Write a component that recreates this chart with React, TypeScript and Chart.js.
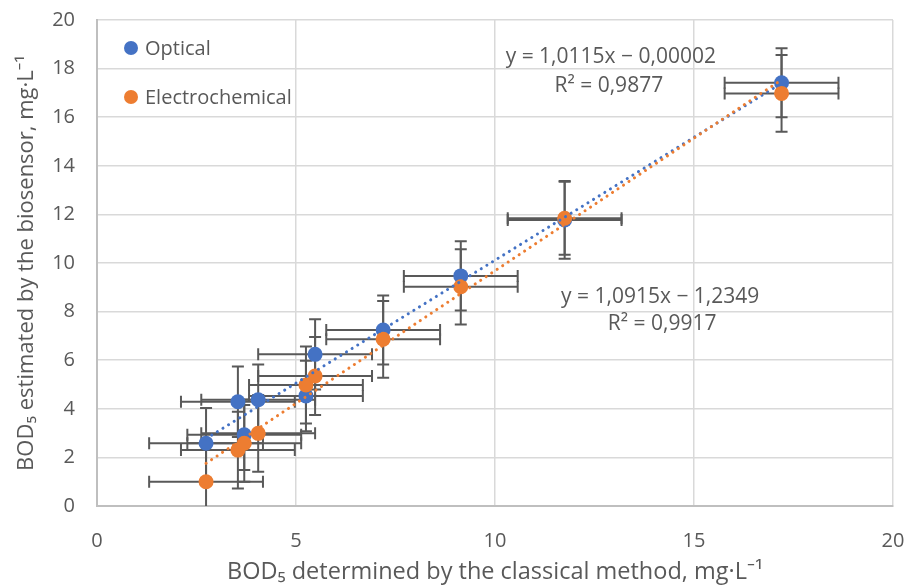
import React, { useEffect, useRef } from "react";
import { Chart, registerables } from "chart.js";

Chart.register(...registerables);

// ---- data ----
const classicalBOD = [2.74, 3.54, 3.7, 4.05, 5.25, 5.48, 7.19, 9.14, 11.75, 17.2];
const opticalBOD = [2.58, 4.29, 2.93, 4.37, 4.53, 6.24, 7.24, 9.47, 11.77, 17.42];
const electroBOD = [1.0, 2.3, 2.58, 2.99, 4.98, 5.35, 6.86, 9.02, 11.84, 16.98];
const classicalErr = [1.43, 1.43, 1.43, 1.43, 1.43, 1.43, 1.43, 1.43, 1.43, 1.43];
const opticalErr = [1.45, 1.45, 1.45, 1.45, 1.45, 1.45, 1.42, 1.42, 1.6, 1.42];
const electroErr = [1.58, 1.58, 1.58, 1.58, 1.58, 1.6, 1.58, 1.55, 1.5, 1.58];

const opticalFit = { slope: 1.0115, intercept: -0.00002 };
const electroFit = { slope: 1.0915, intercept: -1.2349 };

const xTicksStep = 5;
const yTicksStep = 2;

const FONT = "'Open Sans', 'Noto Sans', sans-serif";
const TEXT = "#595959";
const BLUE = "#4472C4";
const ORANGE = "#ED7D31";

const xMin = Math.min(...classicalBOD);
const xMax = Math.max(...classicalBOD);

const toPoints = (xs: number[], ys: number[]) => xs.map((x, i) => ({ x, y: ys[i] }));
const fitLine = (f: { slope: number; intercept: number }) => [
  { x: xMin, y: f.slope * xMin + f.intercept },
  { x: xMax, y: f.slope * xMax + f.intercept },
];

const errorBarPlugin = {
  id: "errorBars",
  beforeDatasetsDraw(chart: any) {
    const { ctx, chartArea, scales } = chart;
    const xs = scales.x;
    const ys = scales.y;
    ctx.save();
    ctx.beginPath();
    ctx.rect(chartArea.left, chartArea.top, chartArea.right - chartArea.left, chartArea.bottom - chartArea.top);
    ctx.clip();
    ctx.strokeStyle = "#595959";
    ctx.lineWidth = 2;
    const cap = 6;
    chart.data.datasets.forEach((ds: any) => {
      if (!ds.errX) return;
      ds.data.forEach((p: any, i: number) => {
        const px = xs.getPixelForValue(p.x);
        const py = ys.getPixelForValue(p.y);
        const x1 = xs.getPixelForValue(p.x - ds.errX[i]);
        const x2 = xs.getPixelForValue(p.x + ds.errX[i]);
        const y1 = ys.getPixelForValue(p.y - ds.errY[i]);
        const y2 = ys.getPixelForValue(p.y + ds.errY[i]);
        ctx.beginPath();
        ctx.moveTo(x1, py);
        ctx.lineTo(x2, py);
        ctx.moveTo(x1, py - cap);
        ctx.lineTo(x1, py + cap);
        ctx.moveTo(x2, py - cap);
        ctx.lineTo(x2, py + cap);
        ctx.moveTo(px, y1);
        ctx.lineTo(px, y2);
        ctx.moveTo(px - cap, y1);
        ctx.lineTo(px + cap, y1);
        ctx.moveTo(px - cap, y2);
        ctx.lineTo(px + cap, y2);
        ctx.stroke();
      });
    });
    ctx.restore();
  },
};

const overlayPlugin = {
  id: "overlay",
  afterDatasetsDraw(chart: any) {
    const { ctx, chartArea, scales } = chart;
    const xs = scales.x;
    const ys = scales.y;
    ctx.save();
    // legend
    const items = chart.data.datasets.filter((d: any) => d.errX);
    items.forEach((d: any, i: number) => {
      const cx = chartArea.left + 34;
      const cy = chartArea.top + 28 + i * 49;
      ctx.beginPath();
      ctx.fillStyle = d.backgroundColor;
      ctx.arc(cx, cy, 7, 0, Math.PI * 2);
      ctx.fill();
      ctx.fillStyle = TEXT;
      ctx.font = `20px ${FONT}`;
      ctx.textAlign = "left";
      ctx.textBaseline = "middle";
      ctx.fillText(d.label, cx + 14, cy + 1);
    });
    // trendline labels
    ctx.fillStyle = TEXT;
    ctx.font = `21px ${FONT}`;
    ctx.textAlign = "center";
    ctx.textBaseline = "middle";
    const lbl = (t: string, vx: number, vy: number) =>
      ctx.fillText(t, xs.getPixelForValue(vx), ys.getPixelForValue(vy));
    lbl("y = 1,0115x − 0,00002", 12.91, 18.48);
    lbl("R² = 0,9877", 12.86, 17.28);
    lbl("y = 1,0915x − 1,2349", 14.15, 8.6);
    lbl("R² = 0,9917", 14.2, 7.49);
    ctx.restore();
  },
};

export default function App() {
  const ref = useRef<HTMLCanvasElement | null>(null);

  useEffect(() => {
    if (!ref.current) return;
    const chart = new Chart(ref.current, {
      type: "scatter",
      data: {
        datasets: [
          {
            label: "Optical trend",
            type: "line",
            data: fitLine(opticalFit),
            borderColor: BLUE,
            borderWidth: 3,
            borderDash: [0.1, 6.5],
            borderCapStyle: "round",
            pointRadius: 0,
            fill: false,
            order: 1,
          } as any,
          {
            label: "Electrochemical trend",
            type: "line",
            data: fitLine(electroFit),
            borderColor: ORANGE,
            borderWidth: 3,
            borderDash: [0.1, 6.5],
            borderCapStyle: "round",
            pointRadius: 0,
            fill: false,
            order: 0,
          } as any,
          {
            label: "Optical",
            data: toPoints(classicalBOD, opticalBOD),
            backgroundColor: BLUE,
            borderColor: BLUE,
            pointRadius: 7.5,
            pointBorderWidth: 0,
            errX: classicalErr,
            errY: opticalErr,
            order: 3,
          } as any,
          {
            label: "Electrochemical",
            data: toPoints(classicalBOD, electroBOD),
            backgroundColor: ORANGE,
            borderColor: ORANGE,
            pointRadius: 7.5,
            pointBorderWidth: 0,
            errX: classicalErr,
            errY: electroErr,
            order: 2,
          } as any,
        ],
      },
      options: {
        animation: false,
        responsive: false,
        maintainAspectRatio: false,
        layout: { padding: { left: 0, top: 20, right: 16, bottom: 0 } },
        plugins: {
          legend: { display: false },
          tooltip: { enabled: false },
        },
        scales: {
          x: {
            type: "linear",
            min: 0,
            max: 20,
            ticks: {
              stepSize: xTicksStep,
              color: TEXT,
              font: { family: FONT, size: 20 },
              padding: 0,
            },
            grid: {
              color: "#D9D9D9",
              lineWidth: 1.5,
              drawTicks: true,
              tickLength: 23,
              tickColor: "rgba(0,0,0,0)",
            },
            border: { color: "#BFBFBF", width: 2 },
            title: {
              display: true,
              text: "BOD₅ determined by the classical method, mg·L⁻¹",
              color: TEXT,
              font: { family: FONT, size: 23.5 },
              padding: { top: 0, bottom: 2 },
            },
            afterFit: (s: any) => {
              s.height = 82;
            },
          },
          y: {
            type: "linear",
            min: 0,
            max: 20,
            ticks: {
              stepSize: yTicksStep,
              color: TEXT,
              font: { family: FONT, size: 20 },
              padding: 0,
            },
            grid: {
              color: "#D9D9D9",
              lineWidth: 1.5,
              drawTicks: true,
              tickLength: 22,
              tickColor: "rgba(0,0,0,0)",
            },
            border: { color: "#BFBFBF", width: 2 },
            title: {
              display: true,
              text: "BOD₅ estimated by the biosensor, mg·L⁻¹",
              color: TEXT,
              font: { family: FONT, size: 22 },
              padding: { top: 14, bottom: 0 },
            },
            afterFit: (s: any) => {
              s.width = 97;
            },
          },
        },
      } as any,
      plugins: [errorBarPlugin, overlayPlugin],
    });
    return () => chart.destroy();
  }, []);

  return (
    <div style={{ position: "fixed", left: 0, top: 0, width: 909, height: 588, background: "#fff" }}>
      <canvas ref={ref} width={909} height={588} style={{ width: 909, height: 588 }} />
    </div>
  );
}
